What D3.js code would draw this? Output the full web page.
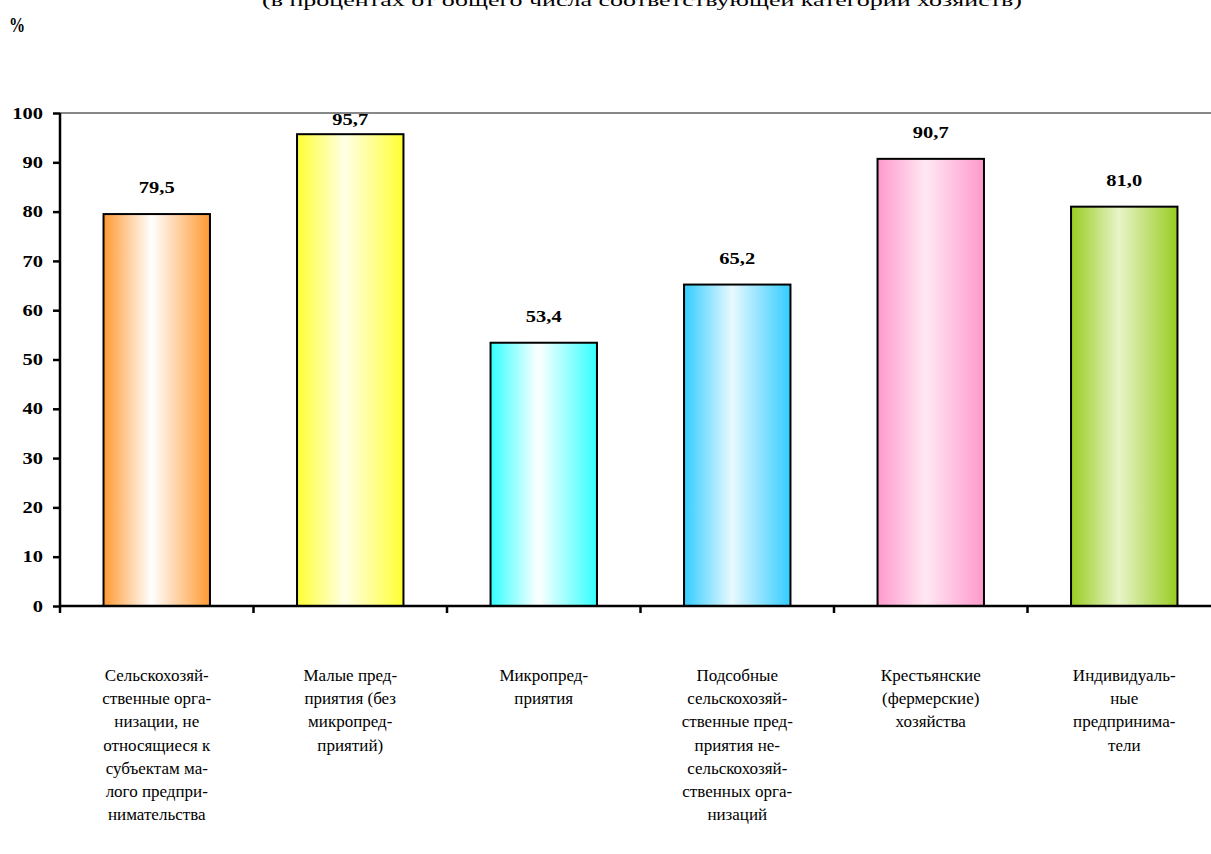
<!DOCTYPE html>
<html><head><meta charset="utf-8">
<script src="https://cdn.jsdelivr.net/npm/d3@7"></script>
<style>body{margin:0;background:#fff}svg{display:block}</style>
</head><body><svg id="c" width="1211" height="854" font-family="Liberation Serif"></svg>
<script>
const categories = [
  ["Сельскохозяй-","ственные орга-","низации, не","относящиеся к","субъектам ма-","лого предпри-","нимательства"],
  ["Малые пред-","приятия (без","микропред-","приятий)"],
  ["Микропред-","приятия"],
  ["Подсобные","сельскохозяй-","ственные пред-","приятия не-","сельскохозяй-","ственных орга-","низаций"],
  ["Крестьянские","(фермерские)","хозяйства"],
  ["Индивидуаль-","ные","предпринима-","тели"]
];
const values = [79.5, 95.7, 53.4, 65.2, 90.7, 81.0];
const edgeColors = ["#FF9933","#FFFF33","#33FFFF","#33CCFF","#FF99CC","#99CC22"];
const centerColors = ["#FFFFFF","#FFFFE6","#FFFFFF","#E8F9FF","#FFE8F3","#E8F4C8"];
const yTicks = [0,10,20,30,40,50,60,70,80,90,100];
const title = "(в процентах от общего числа соответствующей категории хозяйств)";

const F = "Liberation Serif";
const SX = 1.28; // horizontal stretch of bold numerals in the reference
const svg = d3.select("#c");
const x0 = 60, x1 = 1221, yTop = 113, yBot = 606;
const x = d3.scaleBand().domain(d3.range(values.length)).range([x0, x1]).paddingInner(0.45).paddingOuter(0.225);
const xb = d3.scaleBand().domain(d3.range(values.length)).range([x0, x1]);
const y = d3.scaleLinear().domain([0,100]).range([yBot, yTop]);

// title (cut at top, as in reference)
svg.append("text").attr("font-family",F).attr("x", 262).attr("y", 6).attr("textLength", 760).attr("lengthAdjust","spacingAndGlyphs")
  .attr("font-size", 17).text(title);
svg.append("text").attr("font-family",F).attr("transform","translate(9,32) scale(0.85,1.1)").attr("font-weight","bold").attr("font-size", 19).text("%");

const defs = svg.append("defs");
values.forEach((v,i)=>{
  const g = defs.append("linearGradient").attr("id","g"+i).attr("x1","0").attr("x2","1").attr("y1","0").attr("y2","0");
  g.append("stop").attr("offset","0").attr("stop-color",edgeColors[i]);
  g.append("stop").attr("offset","0.45").attr("stop-color",centerColors[i]);
  g.append("stop").attr("offset","1").attr("stop-color",edgeColors[i]);
});

// top gridline
svg.append("line").attr("x1", x0).attr("x2", 1211).attr("y1", y(100)).attr("y2", y(100)).attr("stroke","#888").attr("stroke-width",2);

// bars
svg.selectAll("rect.bar").data(values).join("rect").attr("class","bar")
  .attr("x",(d,i)=>x(i)).attr("width",x.bandwidth())
  .attr("y",d=>y(d)).attr("height",d=>yBot-y(d))
  .attr("fill",(d,i)=>`url(#g${i})`).attr("stroke","#000").attr("stroke-width",2);

// value labels (kept inside the plot area like the reference)
svg.selectAll("text.val").data(values).join("text").attr("class","val")
  .attr("transform",(d,i)=>`translate(${x(i)+x.bandwidth()/2},${Math.max(y(d)-21, 125)}) scale(${SX},1)`)
  .attr("text-anchor","middle").attr("font-family",F).attr("font-weight","bold").attr("font-size",16)
  .text(d=>d3.format(".1f")(d).replace(".",","));

// y axis
const ya = svg.append("g").attr("transform",`translate(${x0},0)`)
  .call(d3.axisLeft(y).tickValues(yTicks).tickSize(7).tickPadding(0).tickFormat(d3.format("d")));
ya.attr("font-family",F);
ya.select(".domain").attr("stroke","#000").attr("stroke-width",2.5).attr("d",`M0,${yTop}V${yBot}`);
ya.selectAll(".tick line").attr("stroke","#000").attr("stroke-width",2.5);
ya.selectAll(".tick text").attr("x",null).attr("transform",`translate(-17,0) scale(${SX},1)`)
  .attr("font-family",F).attr("font-weight","bold").attr("font-size",16).attr("fill","#000");

// x axis
const xa = svg.append("g").attr("transform",`translate(0,${yBot})`);
xa.append("line").attr("x1",x0).attr("x2",1211).attr("stroke","#000").attr("stroke-width",2.5);
xa.selectAll("line.t").data(d3.range(values.length+1)).join("line").attr("class","t")
  .attr("x1",i=>i<values.length?xb(i):x1).attr("x2",i=>i<values.length?xb(i):x1)
  .attr("y1",0).attr("y2",7).attr("stroke","#000").attr("stroke-width",2.5);

// category labels
categories.forEach((lines,i)=>{
  const t = svg.append("text").attr("text-anchor","middle").attr("font-family",F).attr("font-size",17).attr("fill","#000");
  lines.forEach((l,j)=>t.append("tspan").attr("x",xb(i)+xb.bandwidth()/2).attr("y",681+j*23.2).text(l));
});
</script></body></html>
